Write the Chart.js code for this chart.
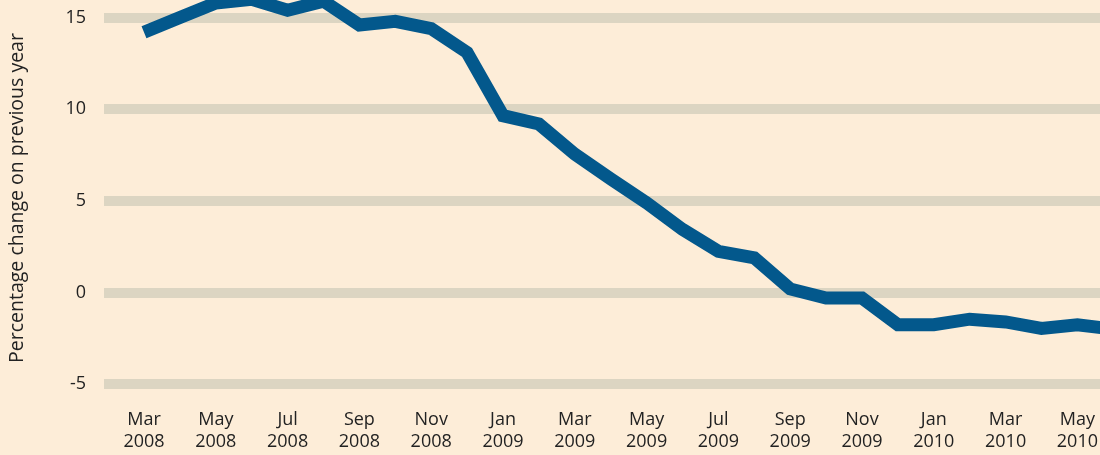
<!DOCTYPE html>
<html>
<head>
<meta charset="utf-8">
<script src="https://cdn.jsdelivr.net/npm/chart.js@4/dist/chart.umd.min.js"></script>
<style>
  html, body { margin: 0; padding: 0; background: #fdedd8; overflow: hidden; }
  #wrap { width: 1100px; height: 455px; }
</style>
</head>
<body>
<div id="wrap"><canvas id="growth"></canvas></div>
<script>
// monthly, Mar 2008 - Jun 2010
var months = ['Mar 2008','Apr 2008','May 2008','Jun 2008','Jul 2008','Aug 2008','Sep 2008','Oct 2008','Nov 2008','Dec 2008',
  'Jan 2009','Feb 2009','Mar 2009','Apr 2009','May 2009','Jun 2009','Jul 2009','Aug 2009','Sep 2009','Oct 2009','Nov 2009','Dec 2009',
  'Jan 2010','Feb 2010','Mar 2010','Apr 2010','May 2010','Jun 2010'];
var change = [14.2, 15.0, 15.8, 16.0, 15.4, 15.9, 14.6, 14.8, 14.4, 13.1,
  9.65, 9.2, 7.55, 6.2, 4.9, 3.45, 2.25, 1.9, 0.2, -0.3, -0.3, -1.75,
  -1.75, -1.45, -1.6, -1.95, -1.75, -2.0];
var yTicks = [-5, 0, 5, 10, 15];

var font = { family: '"Open Sans", sans-serif', size: 18 };

// no extra room for labels hanging over the plot edges
function noPad(s) {
  s.paddingTop = 0; s.paddingBottom = 0; s.paddingLeft = 0; s.paddingRight = 0;
}

var ctx = document.getElementById('growth').getContext('2d');
var chart = new Chart(ctx, {
  type: 'line',
  data: {
    datasets: [{
      label: 'Percentage change on previous year',
      data: change.map(function (v, i) { return { x: i, y: v }; }),
      borderColor: '#03588c',
      borderWidth: 13,
      borderJoinStyle: 'miter',
      borderCapStyle: 'butt',
      pointRadius: 0,
      tension: 0,
      clip: false
    }]
  },
  options: {
    responsive: true,
    maintainAspectRatio: false,
    animation: false,
    layout: { padding: 0 },
    plugins: { legend: { display: false }, tooltip: { enabled: false } },
    scales: {
      x: {
        type: 'linear',
        min: -1.114,
        max: 26.63,
        afterFit: function (s) { s.height = 59; noPad(s); },
        afterBuildTicks: function (s) {
          s.ticks = [];
          for (var i = 0; i < months.length; i += 2) {
            if (i <= s.max) s.ticks.push({ value: i });
          }
        },
        grid: { display: false, drawTicks: false },
        border: { display: false },
        ticks: {
          autoSkip: false,
          maxRotation: 0,
          padding: 13,
          color: '#222',
          font: font,
          callback: function (v) { return months[v] ? months[v].split(' ') : ''; }
        }
      },
      y: {
        min: -5.64,
        max: 15.96,
        afterFit: function (s) { s.width = 104; noPad(s); },
        afterBuildTicks: function (s) {
          s.ticks = yTicks.map(function (v) { return { value: v }; });
        },
        grid: { color: '#dcd5c2', lineWidth: 10, drawTicks: false },
        border: { display: false },
        ticks: { padding: 18, color: '#222', font: font },
        title: {
          display: true,
          text: 'Percentage change on previous year',
          color: '#222',
          font: { family: '"Open Sans", sans-serif', size: 19.5 },
          padding: { top: 6, bottom: 0 }
        }
      }
    }
  }
});
</script>
</body>
</html>
